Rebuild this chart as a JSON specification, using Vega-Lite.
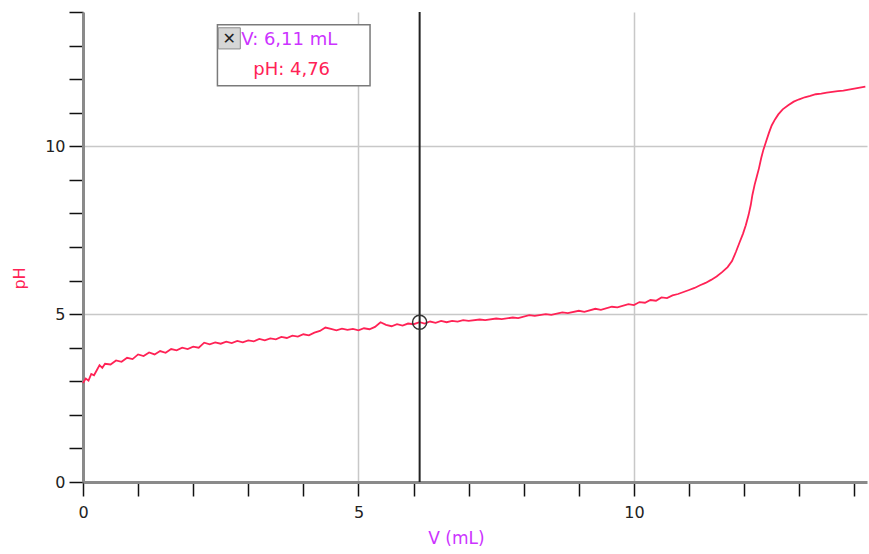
{
  "$schema": "https://vega.github.io/schema/vega-lite/v6.json",
  "autosize": {"type": "none"},
  "width": 784,
  "height": 470,
  "padding": {"left": 83, "top": 12, "right": 2, "bottom": 72},
  "background": "#ffffff",
  "config": {"view": {"stroke": null}},
  "datasets": {
    "curve": [
      {"V":0.00,"pH":2.95},{"V":0.05,"pH":3.08},{"V":0.10,"pH":3.02},{"V":0.15,"pH":3.22},{"V":0.20,"pH":3.18},
      {"V":0.25,"pH":3.33},{"V":0.30,"pH":3.48},{"V":0.35,"pH":3.40},{"V":0.40,"pH":3.52},{"V":0.50,"pH":3.50},
      {"V":0.60,"pH":3.62},{"V":0.70,"pH":3.58},{"V":0.80,"pH":3.70},{"V":0.90,"pH":3.66},{"V":1.00,"pH":3.80},
      {"V":1.10,"pH":3.75},{"V":1.20,"pH":3.86},{"V":1.30,"pH":3.80},{"V":1.40,"pH":3.90},{"V":1.50,"pH":3.85},
      {"V":1.60,"pH":3.96},{"V":1.70,"pH":3.92},{"V":1.80,"pH":4.00},{"V":1.90,"pH":3.96},{"V":2.00,"pH":4.03},
      {"V":2.10,"pH":4.00},{"V":2.20,"pH":4.15},{"V":2.30,"pH":4.10},{"V":2.40,"pH":4.16},{"V":2.50,"pH":4.12},
      {"V":2.60,"pH":4.18},{"V":2.70,"pH":4.14},{"V":2.80,"pH":4.20},{"V":2.90,"pH":4.16},{"V":3.00,"pH":4.22},
      {"V":3.10,"pH":4.19},{"V":3.20,"pH":4.26},{"V":3.30,"pH":4.22},{"V":3.40,"pH":4.28},{"V":3.50,"pH":4.25},
      {"V":3.60,"pH":4.32},{"V":3.70,"pH":4.29},{"V":3.80,"pH":4.36},{"V":3.90,"pH":4.33},{"V":4.00,"pH":4.40},
      {"V":4.10,"pH":4.37},{"V":4.20,"pH":4.45},{"V":4.30,"pH":4.50},{"V":4.40,"pH":4.60},{"V":4.50,"pH":4.56},
      {"V":4.60,"pH":4.52},{"V":4.70,"pH":4.57},{"V":4.80,"pH":4.53},{"V":4.90,"pH":4.56},{"V":5.00,"pH":4.52},
      {"V":5.10,"pH":4.58},{"V":5.20,"pH":4.55},{"V":5.30,"pH":4.62},{"V":5.40,"pH":4.76},{"V":5.50,"pH":4.68},
      {"V":5.60,"pH":4.64},{"V":5.70,"pH":4.70},{"V":5.80,"pH":4.66},{"V":5.90,"pH":4.72},{"V":6.00,"pH":4.70},
      {"V":6.11,"pH":4.76},{"V":6.20,"pH":4.72},{"V":6.30,"pH":4.78},{"V":6.40,"pH":4.74},{"V":6.50,"pH":4.80},
      {"V":6.60,"pH":4.76},{"V":6.70,"pH":4.80},{"V":6.80,"pH":4.78},{"V":6.90,"pH":4.82},{"V":7.00,"pH":4.80},
      {"V":7.20,"pH":4.84},{"V":7.30,"pH":4.82},{"V":7.50,"pH":4.87},{"V":7.60,"pH":4.85},{"V":7.80,"pH":4.90},
      {"V":7.90,"pH":4.88},{"V":8.10,"pH":4.97},{"V":8.20,"pH":4.95},{"V":8.40,"pH":5.00},{"V":8.50,"pH":4.98},
      {"V":8.70,"pH":5.05},{"V":8.80,"pH":5.03},{"V":9.00,"pH":5.10},{"V":9.10,"pH":5.07},{"V":9.30,"pH":5.16},
      {"V":9.40,"pH":5.13},{"V":9.60,"pH":5.22},{"V":9.70,"pH":5.20},{"V":9.90,"pH":5.30},{"V":10.00,"pH":5.27},
      {"V":10.10,"pH":5.36},{"V":10.20,"pH":5.34},{"V":10.30,"pH":5.42},{"V":10.40,"pH":5.40},{"V":10.50,"pH":5.50},
      {"V":10.60,"pH":5.48},{"V":10.70,"pH":5.56},{"V":10.80,"pH":5.60},{"V":10.90,"pH":5.66},{"V":11.00,"pH":5.72},
      {"V":11.10,"pH":5.78},{"V":11.20,"pH":5.86},{"V":11.30,"pH":5.93},{"V":11.40,"pH":6.02},{"V":11.50,"pH":6.12},
      {"V":11.60,"pH":6.25},{"V":11.70,"pH":6.40},{"V":11.78,"pH":6.58},{"V":11.85,"pH":6.85},{"V":11.92,"pH":7.15},
      {"V":11.98,"pH":7.40},{"V":12.03,"pH":7.65},{"V":12.08,"pH":7.95},{"V":12.12,"pH":8.25},{"V":12.15,"pH":8.55},
      {"V":12.19,"pH":8.85},{"V":12.23,"pH":9.10},{"V":12.27,"pH":9.35},{"V":12.31,"pH":9.65},{"V":12.35,"pH":9.90},
      {"V":12.40,"pH":10.15},{"V":12.45,"pH":10.40},{"V":12.50,"pH":10.62},{"V":12.56,"pH":10.80},{"V":12.62,"pH":10.95},
      {"V":12.70,"pH":11.10},{"V":12.80,"pH":11.22},{"V":12.90,"pH":11.33},{"V":13.00,"pH":11.40},{"V":13.10,"pH":11.46},
      {"V":13.20,"pH":11.50},{"V":13.30,"pH":11.55},{"V":13.40,"pH":11.57},{"V":13.50,"pH":11.60},{"V":13.60,"pH":11.62},
      {"V":13.70,"pH":11.64},{"V":13.80,"pH":11.66},{"V":13.90,"pH":11.69},{"V":14.00,"pH":11.72},{"V":14.10,"pH":11.75},
      {"V":14.20,"pH":11.78}
    ],
    "cursor": [{"V": 6.11, "pH": 4.76}]
  },
  "layer": [
    {
      "data": {"name": "curve"},
      "mark": {"type": "line", "color": "#ff2255", "strokeWidth": 1.8},
      "encoding": {
        "x": {
          "field": "V", "type": "quantitative",
          "scale": {"domain": [0, 14.23], "nice": false, "zero": false},
          "axis": {
            "tickCount": 14,
            "labelExpr": "datum.value % 5 === 0 ? datum.label : ''",
            "tickSize": 14,
            "encode": {"ticks": {"update": {"y2": [{"test": "datum.value % 5 === 0", "value": 14}, {"value": 6}]}}},
            "grid": true,
            "gridColor": "#c8c8c8",
            "gridWidth": 1.5,
            "gridOpacity": {"condition": {"test": "datum.value === 5 || datum.value === 10", "value": 1}, "value": 0},
            "domainColor": "#8a8a8a",
            "domainWidth": 3,
            "tickColor": "#111111",
            "tickWidth": 1.5,
            "labelFont": "DejaVu Sans",
            "labelFontSize": 16,
            "labelColor": "#222222",
            "labelPadding": 8,
            "labelOverlap": false,
            "labelFlush": false,
            "title": "V (mL)",
            "titleFont": "DejaVu Sans",
            "titleFontSize": 17,
            "titleFontWeight": "normal",
            "titleColor": "#cc33ff",
            "titleX": 373,
            "titleY": 61,
            "titleAlign": "center",
            "titleBaseline": "alphabetic",
            "zindex": 0
          }
        },
        "y": {
          "field": "pH", "type": "quantitative",
          "scale": {"domain": [0, 14], "nice": false},
          "axis": {
            "tickCount": 14,
            "labelExpr": "datum.value % 5 === 0 ? datum.label : ''",
            "tickSize": 14,
            "encode": {"ticks": {"update": {"x2": [{"test": "datum.value % 5 === 0", "value": -14}, {"value": -6}]}}},
            "grid": true,
            "gridColor": "#c8c8c8",
            "gridWidth": 1.5,
            "gridOpacity": {"condition": {"test": "datum.value === 5 || datum.value === 10", "value": 1}, "value": 0},
            "domainColor": "#8a8a8a",
            "domainWidth": 3,
            "tickColor": "#111111",
            "tickWidth": 1.5,
            "labelFont": "DejaVu Sans",
            "labelFontSize": 16,
            "labelColor": "#222222",
            "labelPadding": 4,
            "labelOverlap": false,
            "labelFlush": false,
            "title": "pH",
            "titleFont": "DejaVu Sans",
            "titleFontSize": 16,
            "titleFontWeight": "normal",
            "titleColor": "#ff2255",
            "titleAngle": -90,
            "titleX": -64,
            "titleY": 266,
            "titleAlign": "center",
            "titleBaseline": "middle",
            "zindex": 0
          }
        }
      }
    },
    {
      "data": {"name": "cursor"},
      "mark": {"type": "rule", "color": "#222222", "strokeWidth": 2},
      "encoding": {"x": {"field": "V", "type": "quantitative"}}
    },
    {
      "data": {"name": "cursor"},
      "mark": {"type": "point", "shape": "circle", "filled": false, "size": 200, "stroke": "#333333", "strokeWidth": 1.5, "opacity": 1},
      "encoding": {
        "x": {"field": "V", "type": "quantitative"},
        "y": {"field": "pH", "type": "quantitative"}
      }
    },
    {
      "data": {"name": "cursor"},
      "mark": {"type": "rect", "fill": "#ffffff", "stroke": "#7a7a7a", "strokeWidth": 1.5},
      "encoding": {
        "x": {"datum": 2.44, "type": "quantitative"},
        "x2": {"datum": 5.21},
        "y": {"datum": 11.80, "type": "quantitative"},
        "y2": {"datum": 13.62}
      }
    },
    {
      "data": {"name": "cursor"},
      "mark": {"type": "rect", "fill": "#d6d6d6", "stroke": "#8a8a8a", "strokeWidth": 1},
      "encoding": {
        "x": {"datum": 2.455, "type": "quantitative"},
        "x2": {"datum": 2.855},
        "y": {"datum": 12.90, "type": "quantitative"},
        "y2": {"datum": 13.53}
      }
    },
    {
      "data": {"name": "cursor"},
      "mark": {"type": "text", "font": "DejaVu Sans", "fontSize": 16, "color": "#222222", "align": "center", "baseline": "middle"},
      "encoding": {
        "x": {"datum": 2.655, "type": "quantitative"},
        "y": {"datum": 13.21, "type": "quantitative"},
        "text": {"value": "✕"}
      }
    },
    {
      "data": {"name": "cursor"},
      "mark": {"type": "text", "font": "DejaVu Sans", "fontSize": 18, "color": "#cc33ff", "align": "left", "baseline": "middle"},
      "encoding": {
        "x": {"datum": 2.873, "type": "quantitative"},
        "y": {"datum": 13.17, "type": "quantitative"},
        "text": {"value": "V: 6,11 mL"}
      }
    },
    {
      "data": {"name": "cursor"},
      "mark": {"type": "text", "font": "DejaVu Sans", "fontSize": 18, "color": "#ff2255", "align": "left", "baseline": "middle"},
      "encoding": {
        "x": {"datum": 3.09, "type": "quantitative"},
        "y": {"datum": 12.28, "type": "quantitative"},
        "text": {"value": "pH: 4,76"}
      }
    }
  ]
}
